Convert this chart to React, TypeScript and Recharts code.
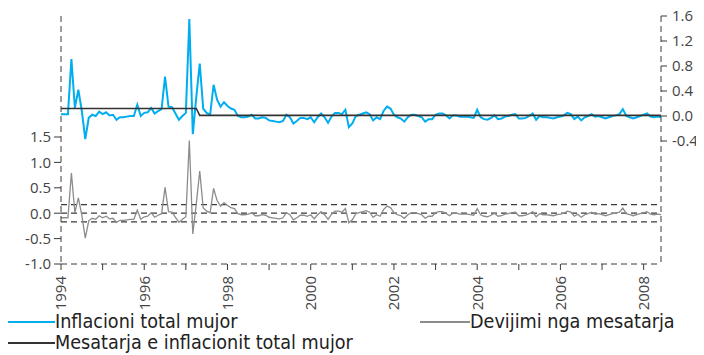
import React from 'react';
import { LineChart, Line, XAxis, YAxis, ReferenceLine } from 'recharts';

// monthly data, Jan 1994 - Jun 2008
const startYear = 1994;

const inflation = [
  0.03, 0.03, 0.03, 0.91, 0.13, 0.42, 0.08, -0.37, -0.03, 0.02,
  0.0, 0.07, 0.03, 0.06, 0.01, 0.02, -0.06, -0.02, -0.02, -0.01,
  0.0, 0.0, 0.18, 0.0, 0.05, 0.06, 0.13, 0.04, 0.08, 0.11,
  0.63, 0.15, 0.14, 0.04, -0.06, 0.0, 0.05, 1.55, -0.29, 0.3,
  0.84, 0.12, 0.05, 0.02, 0.5, 0.26, 0.15, 0.22, 0.16, 0.12,
  0.1, 0.0, -0.02, -0.02, -0.01, 0.02, -0.04, -0.04, -0.02, -0.03,
  -0.07, -0.08, -0.09, -0.1, -0.08, 0.02, -0.02, -0.12, -0.08, -0.03,
  -0.03, -0.05, -0.02, -0.1, -0.02, 0.04, -0.02, -0.11, -0.01, 0.05,
  0.05, 0.03, 0.1, -0.18, -0.12, 0.0, 0.02, 0.04, 0.06, 0.03,
  -0.07, -0.02, -0.05, 0.08, 0.15, 0.12, 0.02, -0.02, -0.04, -0.09,
  -0.02, 0.02, 0.02, 0.0, -0.02, -0.09, -0.05, -0.05, 0.02, 0.04,
  0.04, 0.01, -0.04, 0.01, 0.01, -0.01, -0.01, -0.01, -0.02, -0.03,
  0.1, -0.02, -0.05, -0.06, -0.03, 0.01, -0.05, -0.04, -0.01, 0.0,
  0.02, 0.03, -0.04, -0.04, -0.03, 0.0, 0.04, -0.06, 0.0, -0.02,
  -0.02, -0.03, -0.04, -0.02, -0.01, 0.01, 0.05, 0.03, -0.05, -0.01,
  -0.07, -0.02, 0.0, 0.03, -0.01, 0.0, -0.02, -0.04, -0.02, 0.0,
  0.01, 0.03, 0.11, 0.0, -0.02, -0.04, -0.02, 0.0, 0.02, 0.04,
  -0.01, -0.02, -0.01, -0.02,
];

const meanInflation = [
  0.12, 0.12, 0.12, 0.12, 0.12, 0.12, 0.12, 0.12, 0.12, 0.12,
  0.12, 0.12, 0.12, 0.12, 0.12, 0.12, 0.12, 0.12, 0.12, 0.12,
  0.12, 0.12, 0.12, 0.12, 0.12, 0.12, 0.12, 0.12, 0.12, 0.12,
  0.12, 0.12, 0.12, 0.12, 0.12, 0.12, 0.12, 0.12, 0.12, 0.12,
  0.01, 0.01, 0.01, 0.01, 0.01, 0.01, 0.01, 0.01, 0.01, 0.01,
  0.01, 0.01, 0.01, 0.01, 0.01, 0.01, 0.01, 0.01, 0.01, 0.01,
  0.01, 0.01, 0.01, 0.01, 0.01, 0.01, 0.01, 0.01, 0.01, 0.01,
  0.01, 0.01, 0.01, 0.01, 0.01, 0.01, 0.01, 0.01, 0.01, 0.01,
  0.01, 0.01, 0.01, 0.01, 0.01, 0.01, 0.01, 0.01, 0.01, 0.01,
  0.01, 0.01, 0.01, 0.01, 0.01, 0.01, 0.01, 0.01, 0.01, 0.01,
  0.01, 0.01, 0.01, 0.01, 0.01, 0.01, 0.01, 0.01, 0.01, 0.01,
  0.01, 0.01, 0.01, 0.01, 0.01, 0.01, 0.01, 0.01, 0.01, 0.01,
  0.01, 0.01, 0.01, 0.01, 0.01, 0.01, 0.01, 0.01, 0.01, 0.01,
  0.01, 0.01, 0.01, 0.01, 0.01, 0.01, 0.01, 0.01, 0.01, 0.01,
  0.01, 0.01, 0.01, 0.01, 0.01, 0.01, 0.01, 0.01, 0.01, 0.01,
  0.01, 0.01, 0.01, 0.01, 0.01, 0.01, 0.01, 0.01, 0.01, 0.01,
  0.01, 0.01, 0.01, 0.01, 0.01, 0.01, 0.01, 0.01, 0.01, 0.01,
  0.01, 0.01, 0.01, 0.01,
];

const deviation = [
  -0.09, -0.09, -0.09, 0.79, 0.01, 0.3, -0.04, -0.49, -0.15, -0.1,
  -0.12, -0.05, -0.09, -0.06, -0.11, -0.1, -0.18, -0.14, -0.14, -0.13,
  -0.12, -0.12, 0.06, -0.12, -0.07, -0.06, 0.01, -0.08, -0.04, -0.01,
  0.51, 0.03, 0.02, -0.08, -0.18, -0.12, -0.07, 1.43, -0.41, 0.18,
  0.83, 0.11, 0.04, 0.01, 0.49, 0.25, 0.14, 0.21, 0.15, 0.11,
  0.09, -0.01, -0.03, -0.03, -0.02, 0.01, -0.05, -0.05, -0.03, -0.04,
  -0.08, -0.09, -0.1, -0.11, -0.09, 0.01, -0.03, -0.13, -0.09, -0.04,
  -0.04, -0.06, -0.03, -0.11, -0.03, 0.03, -0.03, -0.12, -0.02, 0.04,
  0.04, 0.02, 0.09, -0.19, -0.13, -0.01, 0.01, 0.03, 0.05, 0.02,
  -0.08, -0.03, -0.06, 0.07, 0.14, 0.11, 0.01, -0.03, -0.05, -0.1,
  -0.03, 0.01, 0.01, -0.01, -0.03, -0.1, -0.06, -0.06, 0.01, 0.03,
  0.03, 0.0, -0.05, 0.0, 0.0, -0.02, -0.02, -0.02, -0.03, -0.04,
  0.09, -0.03, -0.06, -0.07, -0.04, 0.0, -0.06, -0.05, -0.02, -0.01,
  0.01, 0.02, -0.05, -0.05, -0.04, -0.01, 0.03, -0.07, -0.01, -0.03,
  -0.03, -0.04, -0.05, -0.03, -0.02, 0.0, 0.04, 0.02, -0.06, -0.02,
  -0.08, -0.03, -0.01, 0.02, -0.02, -0.01, -0.03, -0.05, -0.03, -0.01,
  0.0, 0.02, 0.1, -0.01, -0.03, -0.05, -0.03, -0.01, 0.01, 0.03,
  -0.02, -0.03, -0.02, -0.03,
];

const yearTicks = [1994, 1995, 1996, 1997, 1998, 1999, 2000, 2001, 2002, 2003, 2004, 2005, 2006, 2007, 2008];
const inflTicks = [-0.4, 0, 0.4, 0.8, 1.2, 1.6];
const devTicks = [-1, -0.5, 0, 0.5, 1, 1.5];
const bandLimit = 0.17;

const data = inflation.map((v, i) => ({
  t: startYear + i / 12,
  infl: v,
  mean: meanInflation[i],
  dev: deviation[i],
}));

const FONT = "'Open Sans', 'DejaVu Sans', sans-serif";
const LEGEND_FONT = "'DejaVu Sans Condensed', 'Liberation Sans Narrow', sans-serif";
const AXIS = '#3a3a3a';
const TEXT = '#444';

const YearTick = (props: any) => {
  const { x, y, payload } = props;
  if (payload.value % 2 !== 0) return null;
  return (
    <text
      x={x}
      y={y + 4}
      transform={`rotate(-90, ${x}, ${y + 4})`}
      textAnchor="end"
      dy="0.36em"
      fill={TEXT}
      fontSize={15}
      fontFamily={FONT}
    >
      {payload.value}
    </text>
  );
};

const LegendItem = ({ color, width, label, left, top }: any) => (
  <div style={{ position: 'absolute', left, top, display: 'flex', alignItems: 'center', whiteSpace: 'nowrap' }}>
    <div style={{ width: 50, height: width, background: color }} />
    <span style={{ fontFamily: LEGEND_FONT, fontSize: 19.6, color: '#222', lineHeight: '22px' }}>{label}</span>
  </div>
);

export default function App() {
  return (
    <div style={{ position: 'relative', width: 696, height: 355, marginTop: -8 }}>
      <LineChart width={696} height={328} data={data} margin={{ top: 16, right: 0, bottom: 20, left: 0 }}>
        <XAxis
          dataKey="t"
          type="number"
          domain={[1994, 2008.4167]}
          ticks={yearTicks}
          interval={0}
          tick={<YearTick />}
          tickSize={6}
          height={44}
          axisLine={{ stroke: AXIS, strokeDasharray: '6 4' }}
          tickLine={{ stroke: AXIS }}
        />
        <YAxis
          yAxisId="dev"
          orientation="left"
          width={53}
          domain={[-1, 3.882]}
          ticks={devTicks}
          interval={0}
          allowDataOverflow
          tickFormatter={(v: number) => v.toFixed(1)}
          tick={{ fill: TEXT, fontSize: 15, fontFamily: FONT }}
          tickSize={7}
          tickMargin={3}
          axisLine={{ stroke: AXIS, strokeDasharray: '6 4' }}
          tickLine={{ stroke: AXIS }}
        />
        <YAxis
          yAxisId="infl"
          orientation="right"
          width={43}
          domain={[-2.368, 1.6]}
          ticks={inflTicks}
          interval={0}
          allowDataOverflow
          tickFormatter={(v: number) => v.toFixed(1)}
          tick={{ fill: TEXT, fontSize: 15, fontFamily: FONT, textAnchor: 'start' }}
          tickSize={6}
          tickMargin={5}
          axisLine={{ stroke: AXIS, strokeDasharray: '6 4' }}
          tickLine={{ stroke: AXIS }}
        />
        <ReferenceLine yAxisId="dev" y={bandLimit} stroke={AXIS} strokeDasharray="6 4" strokeWidth={1.2} />
        <ReferenceLine yAxisId="dev" y={0} stroke={AXIS} strokeDasharray="6 4" strokeWidth={1.2} />
        <ReferenceLine yAxisId="dev" y={-bandLimit} stroke={AXIS} strokeDasharray="6 4" strokeWidth={1.2} />
        <Line yAxisId="dev" dataKey="dev" stroke="#8c8c8c" strokeWidth={1.3} dot={false} isAnimationActive={false} />
        <Line yAxisId="infl" dataKey="infl" stroke="#00aeef" strokeWidth={2} dot={false} isAnimationActive={false} />
        <Line yAxisId="infl" dataKey="mean" stroke="#333" strokeWidth={1.6} dot={false} isAnimationActive={false} />
      </LineChart>
      <LegendItem color="#00aeef" width={2} label="Inflacioni total mujor" left={-3} top={311} />
      <LegendItem color="#8c8c8c" width={1.5} label="Devijimi nga mesatarja" left={412} top={311} />
      <LegendItem color="#333" width={1.6} label="Mesatarja e inflacionit total mujor" left={-3} top={332} />
    </div>
  );
}
